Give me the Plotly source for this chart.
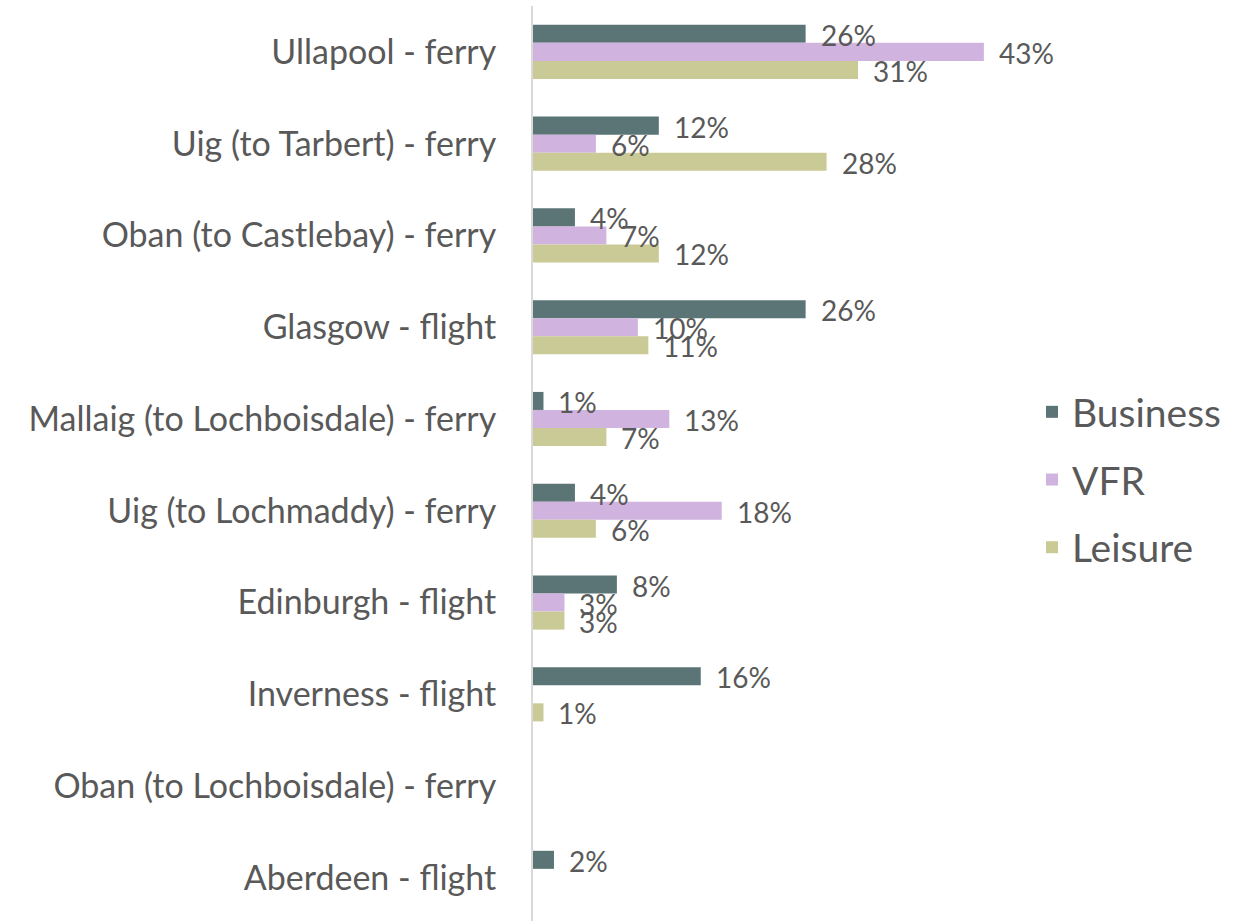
import plotly.graph_objects as go

# Routes, top to bottom
routes = [
    "Ullapool - ferry",
    "Uig (to Tarbert) - ferry",
    "Oban (to Castlebay) - ferry",
    "Glasgow - flight",
    "Mallaig (to Lochboisdale) - ferry",
    "Uig (to Lochmaddy) - ferry",
    "Edinburgh - flight",
    "Inverness - flight",
    "Oban (to Lochboisdale) - ferry",
    "Aberdeen - flight",
]

# Share of respondents by journey purpose (%); None = no response
business = [26, 12, 4, 26, 1, 4, 8, 16, None, 2]
vfr = [43, 6, 7, 10, 13, 18, 3, None, None, None]
leisure = [31, 28, 12, 11, 7, 6, 3, 1, None, None]

series = [
    ("Business", business, "#5B7577"),
    ("VFR", vfr, "#D1B3DF"),
    ("Leisure", leisure, "#CACA96"),
]

TEXT = "#595959"
FONT = "Lato"

fig = go.Figure()
for i, (name, vals, color) in enumerate(series):
    fig.add_trace(go.Bar(
        name=name, y=routes, x=vals, orientation="h",
        marker=dict(color=color, line=dict(width=0)),
        legendgroup=name,
    ))

# Value labels just past the end of each bar
bar_step = 18
for i, (name, vals, color) in enumerate(series):
    for r, v in zip(routes, vals):
        if v is None:
            continue
        fig.add_annotation(
            x=v, y=r, xref="x", yref="y", text=f"{v}%",
            showarrow=False, xanchor="left", yanchor="middle",
            xshift=13, yshift=(1 - i) * bar_step - 1,
            font=dict(family=FONT, size=28, color=TEXT),
        )

fig.update_layout(
    width=1242, height=921,
    margin=dict(l=533, r=212, t=6, b=0),
    paper_bgcolor="white", plot_bgcolor="white",
    barmode="group", bargap=0.41, bargroupgap=0,
    font=dict(family=FONT, color=TEXT),
    showlegend=True,
    legend=dict(
        x=1032 / 1242, xref="container", xanchor="left",
        y=0.482, yanchor="middle",
        font=dict(family=FONT, size=39, color=TEXT),
        traceorder="grouped", tracegroupgap=14,
        bgcolor="rgba(0,0,0,0)",
    ),
    xaxis=dict(
        range=[0, 47.4], showgrid=False, zeroline=False,
        showticklabels=False, ticks="", showline=False,
    ),
    yaxis=dict(
        range=[9.47, -0.5], showgrid=False, zeroline=False,
        showline=True, linecolor="#D9D9D9", linewidth=2,
        ticks="", ticklabelstandoff=28,
        tickfont=dict(family=FONT, size=34, color=TEXT),
    ),
)

fig.write_html("out.html")
